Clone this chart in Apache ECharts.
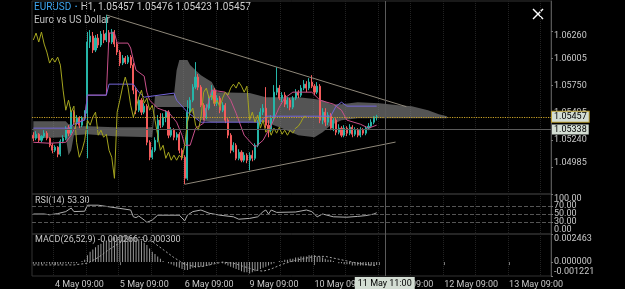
<!DOCTYPE html>
<html>
<head>
<meta charset="utf-8">
<title>EURUSD H1</title>
<script src="https://cdn.jsdelivr.net/npm/echarts@6.0.0/dist/echarts.min.js"></script>
<style>
  html, body { margin: 0; padding: 0; background: #000; }
  #chart { width: 625px; height: 289px; }
</style>
</head>
<body>
<div id="chart"></div>
<script>
// time axis: hourly bars, weekend skipped
const days = ['4 May', '5 May', '6 May', '9 May', '10 May', '11 May', '12 May', '13 May', '14 May'];
const hours = [...Array(24).keys()].map(h => String(h).padStart(2, '0') + ':00');
const categories = days.flatMap(d => hours.map(h => d + ' ' + h)).slice(1, 193);

// candles: [open, close, low, high]
const candles = [
  [1.05285,1.05257,1.05229,1.05313],[1.05257,1.05294,1.05238,1.05323],[1.05294,1.05238,1.05219,1.05304],
  [1.05238,1.05276,1.05219,1.05285],[1.05276,1.05304,1.05257,1.05332],[1.05304,1.05257,1.05238,1.05323],
  [1.05257,1.05191,1.05173,1.05266],[1.05191,1.05144,1.05116,1.05210],[1.05144,1.05173,1.05126,1.05191],
  [1.05173,1.05107,1.05079,1.05182],[1.05107,1.05229,1.05088,1.05248],[1.05229,1.05257,1.05210,1.05285],
  [1.05257,1.05351,1.05238,1.05369],[1.05351,1.05304,1.05276,1.05379],[1.05304,1.05501,1.05285,1.05548],
  [1.05501,1.05407,1.05379,1.05519],[1.05407,1.05445,1.05388,1.05473],[1.05445,1.05379,1.05351,1.05463],
  [1.05379,1.05445,1.05360,1.05463],[1.05445,1.05491,1.05426,1.05519],[1.05491,1.06157,1.05069,1.06251],
  [1.06157,1.06213,1.06101,1.06269],[1.06213,1.06082,1.06054,1.06251],[1.06082,1.06194,1.06063,1.06222],
  [1.06194,1.06129,1.06101,1.06232],[1.06129,1.06232,1.06110,1.06260],[1.06232,1.06176,1.06147,1.06269],
  [1.06176,1.06241,1.06157,1.06410],[1.06241,1.06157,1.06129,1.06269],[1.06157,1.06251,1.06138,1.06279],
  [1.06251,1.06138,1.06110,1.06269],[1.06138,1.06063,1.06035,1.06157],[1.06063,1.05960,1.05932,1.06082],
  [1.05960,1.06007,1.05941,1.06035],[1.06007,1.05969,1.05951,1.06026],[1.05969,1.06016,1.05951,1.06035],
  [1.06016,1.05941,1.05913,1.06035],[1.05941,1.05707,1.05669,1.05960],[1.05707,1.05519,1.05482,1.05726],
  [1.05519,1.05613,1.05501,1.05641],[1.05613,1.05501,1.05473,1.05632],[1.05501,1.05557,1.05482,1.05585],
  [1.05557,1.05219,1.05191,1.05576],[1.05219,1.05079,1.05051,1.05238],[1.05079,1.05144,1.05060,1.05173],
  [1.05144,1.05238,1.05126,1.05266],[1.05238,1.05426,1.05219,1.05473],[1.05426,1.05379,1.05351,1.05491],
  [1.05379,1.05454,1.05360,1.05491],[1.05454,1.05501,1.05407,1.05519],[1.05501,1.05285,1.05257,1.05519],
  [1.05285,1.05332,1.05266,1.05360],[1.05332,1.05266,1.05238,1.05351],[1.05266,1.05294,1.05238,1.05313],
  [1.05294,1.05144,1.05116,1.05313],[1.05144,1.05079,1.05051,1.05163],[1.05079,1.04882,1.04826,1.05098],
  [1.04882,1.05501,1.04863,1.05613],[1.05501,1.05613,1.05473,1.05641],[1.05613,1.05735,1.05594,1.05763],
  [1.05735,1.05829,1.05716,1.05969],[1.05829,1.05735,1.05707,1.05857],[1.05735,1.05566,1.05548,1.05754],
  [1.05566,1.05454,1.05426,1.05585],[1.05454,1.05538,1.05435,1.05576],[1.05538,1.05641,1.05519,1.05660],
  [1.05641,1.05707,1.05613,1.05754],[1.05707,1.05585,1.05557,1.05726],[1.05585,1.05632,1.05557,1.05660],
  [1.05632,1.05519,1.05491,1.05651],[1.05519,1.05566,1.05501,1.05594],[1.05566,1.05426,1.05398,1.05585],
  [1.05426,1.05285,1.05257,1.05445],[1.05285,1.05144,1.05116,1.05304],[1.05144,1.05191,1.05126,1.05219],
  [1.05191,1.05069,1.05051,1.05210],[1.05069,1.05126,1.05051,1.05154],[1.05126,1.05051,1.05032,1.05144],
  [1.05051,1.05098,1.05032,1.05126],[1.05098,1.05051,1.05023,1.05116],[1.05051,1.05098,1.04957,1.05126],
  [1.05098,1.05069,1.05041,1.05144],[1.05069,1.05191,1.05051,1.05210],[1.05191,1.05407,1.05173,1.05426],
  [1.05407,1.05501,1.05388,1.05538],[1.05501,1.05538,1.05473,1.05576],[1.05538,1.05379,1.05351,1.05735],
  [1.05379,1.05332,1.05266,1.05426],[1.05332,1.05445,1.05313,1.05473],[1.05445,1.05688,1.05426,1.05754],
  [1.05688,1.05726,1.05660,1.05922],[1.05726,1.05632,1.05613,1.05754],[1.05632,1.05660,1.05594,1.05688],
  [1.05660,1.05576,1.05548,1.05688],[1.05576,1.05613,1.05538,1.05641],[1.05613,1.05548,1.05519,1.05632],
  [1.05548,1.05632,1.05529,1.05651],[1.05632,1.05688,1.05613,1.05716],[1.05688,1.05660,1.05632,1.05707],
  [1.05660,1.05726,1.05641,1.05754],[1.05726,1.05763,1.05707,1.05801],[1.05763,1.05726,1.05688,1.05791],
  [1.05726,1.05782,1.05707,1.05819],[1.05782,1.05744,1.05726,1.05847],[1.05744,1.05688,1.05660,1.05763],
  [1.05688,1.05744,1.05669,1.05782],[1.05744,1.05426,1.05398,1.05763],[1.05426,1.05501,1.05388,1.05538],
  [1.05501,1.05407,1.05369,1.05538],[1.05407,1.05473,1.05379,1.05501],[1.05473,1.05351,1.05332,1.05491],
  [1.05351,1.05426,1.05323,1.05445],[1.05426,1.05313,1.05285,1.05445],[1.05313,1.05351,1.05294,1.05388],
  [1.05351,1.05285,1.05266,1.05369],[1.05285,1.05351,1.05266,1.05379],[1.05351,1.05304,1.05276,1.05369],
  [1.05304,1.05360,1.05285,1.05388],[1.05360,1.05294,1.05266,1.05379],[1.05294,1.05332,1.05276,1.05360],
  [1.05332,1.05285,1.05266,1.05351],[1.05285,1.05332,1.05266,1.05360],[1.05332,1.05304,1.05285,1.05351],
  [1.05304,1.05351,1.05285,1.05369],[1.05351,1.05369,1.05332,1.05398],[1.05369,1.05407,1.05351,1.05435],
  [1.05407,1.05457,1.05388,1.05463],[1.05457,1.05457,1.05423,1.05476]
];

// ichimoku lines, read as [bar index, price]
const tenkan = [
  [0,1.05219],[6,1.05210],[12,1.05219],[14,1.05285],[16,1.05388],[19,1.05445],[20,1.05660],[27,1.05660],
  [28,1.06241],[30,1.06241],[31,1.06147],[35,1.06147],[36,1.06101],[37,1.05988],[38,1.05894],[41,1.05838],
  [42,1.05688],[43,1.05613],[46,1.05538],[50,1.05501],[53,1.05407],[55,1.05285],[56,1.05191],[58,1.05191],
  [60,1.05351],[63,1.05398],[64,1.05519],[66,1.05707],[71,1.05688],[73,1.05613],[75,1.05491],[78,1.05285],
  [82,1.05173],[85,1.05238],[88,1.05379],[91,1.05548],[93,1.05632],[96,1.05688],[103,1.05688],[106,1.05613],
  [111,1.05576],[114,1.05519],[116,1.05426],[121,1.05388],[124,1.05351],[127,1.05379]
];
const kijun = [
  [0,1.05351],[13,1.05351],[15,1.05388],[19,1.05426],[20,1.05660],[27,1.05660],[28,1.05763],[37,1.05763],
  [39,1.05688],[41,1.05641],[52,1.05679],[53,1.05613],[57,1.05501],[60,1.05445],[62,1.05407],[84,1.05407],
  [86,1.05463],[110,1.05463],[112,1.05557],[114,1.05594],[116,1.05557],[127,1.05557]
];
// lagging span, starts at the first bar
const chikou = [
  1.06176,1.06241,1.06157,1.06251,1.06138,1.06063,1.05960,1.06007,1.05969,1.06016,1.05941,1.05707,
  1.05519,1.05613,1.05501,1.05557,1.05219,1.05079,1.05144,1.05238,1.05426,1.05379,1.05454,1.05501,
  1.05285,1.05332,1.05266,1.05294,1.05144,1.05079,1.04882,1.05501,1.05613,1.05735,1.05829,1.05735,
  1.05566,1.05454,1.05538,1.05641,1.05707,1.05585,1.05632,1.05519,1.05566,1.05426,1.05285,1.05144,
  1.05191,1.05069,1.05126,1.05051,1.05098,1.05051,1.05098,1.05069,1.05191,1.05407,1.05501,1.05538,
  1.05379,1.05332,1.05445,1.05688,1.05726,1.05632,1.05660,1.05576,1.05613,1.05548,1.05632,1.05688,
  1.05660,1.05726,1.05763,1.05726,1.05782,1.05744,1.05688,1.05744,1.05426,1.05501,1.05407,1.05473,
  1.05351,1.05426,1.05313,1.05351,1.05285,1.05351,1.05304,1.05360,1.05294,1.05332,1.05285,1.05332,
  1.05304,1.05351,1.05369,1.05407,1.05457,1.05457
];
// cloud outline
const cloudIdx = [0,12,13,14,15,20,30,44,45,52,53,54,57,58,60,62,66,68,80,86,92,98,104,107,110,114,120,128,135,140,146,150,153];
const cloudTop = [1.05416,1.05416,1.05388,1.05388,1.05369,1.05369,1.05360,1.05360,1.05651,1.05660,1.05894,1.05988,1.05988,1.05941,1.05894,1.05847,1.05782,1.05688,1.05679,1.05641,1.05641,1.05641,1.05623,1.05613,1.05576,1.05576,1.05594,1.05585,1.05566,1.05557,1.05519,1.05482,1.05463];
const cloudBottom = [1.05257,1.05266,1.05098,1.05144,1.05285,1.05294,1.05276,1.05266,1.05548,1.05548,1.05548,1.05548,1.05548,1.05519,1.05445,1.05426,1.05407,1.05407,1.05407,1.05407,1.05351,1.05285,1.05266,1.05313,1.05379,1.05426,1.05445,1.05445,1.05445,1.05445,1.05445,1.05445,1.05445];

// triangle trend lines
const upperTrend = [[27, 1.06410], [138, 1.05552]];
const lowerTrend = [[56, 1.04826], [134, 1.05221]];

// RSI(14)
const rsi = [
  [0,50],[4,50],[6,48],[9,51],[12,56],[14,65],[15,56],[19,57],[20,72],[24,72],[28,68],[32,64],[36,60],
  [37,43],[38,41],[39,45],[41,35],[42,29],[44,35],[46,47],[54,47],[56,33],[57,47],[59,56],[62,60],[65,52],
  [69,47],[74,43],[76,37],[80,39],[83,43],[85,56],[86,60],[87,50],[88,60],[90,54],[97,55],[101,60],[103,56],
  [105,43],[107,50],[111,43],[116,42],[120,44],[123,46],[126,50],[127,53.3]
];
const rsiLevels = [70, 50, 30];

// MACD(26,52,9)
const macd = [
  -0.00015,-0.0002,-0.00015,-0.0002,-0.00015,-0.0001,-0.00015,-0.0002,-0.0002,-0.00015,-0.0002,-0.00015,
  -0.0001,-0.00015,-0.0001,-0.0001,-0.0001,0,0.0001,0.0002,0.0006,0.0009,0.0011,0.0013,0.0015,0.0016,
  0.0018,0.0019,0.002,0.0021,0.0022,0.0022,0.0023,0.0023,0.0023,0.0023,0.0022,0.0022,0.0021,0.002,
  0.0019,0.0017,0.0015,0.0012,0.0009,0.0007,0.0005,0.0003,0.0001,0,-0.0001,-0.0002,-0.0003,-0.0004,
  -0.0005,-0.0006,-0.0007,-0.0007,-0.0006,-0.0005,-0.0005,-0.0004,-0.0004,-0.0004,-0.0003,-0.0003,
  -0.0002,-0.0001,-0.0001,0,-0.0001,-0.0002,-0.0003,-0.0004,-0.0005,-0.0006,-0.0007,-0.0008,-0.0009,
  -0.0009,-0.001,-0.0009,-0.0008,-0.0007,-0.0006,-0.0005,-0.0004,-0.0003,-0.0002,-0.0001,0,0.0001,
  0.0001,0.0002,0.0002,0.0003,0.0003,0.0004,0.0004,0.0005,0.0005,0.0005,0.0006,0.0006,0.0006,0.0005,
  0.0005,0.0004,0.0003,0.0002,0.0002,0.0001,0,-0.0001,-0.0001,-0.0002,-0.0002,-0.0002,-0.0003,-0.0003,
  -0.0003,-0.0003,-0.0003,-0.0003,-0.0003,-0.0003,-0.00028,-0.000266
];
const signal = [
  [0,-0.00025],[15,-0.00025],[20,-0.0001],[24,0.0004],[28,0.0011],[32,0.0017],[36,0.0021],[40,0.0022],
  [44,0.0018],[48,0.0011],[52,0.0004],[56,-0.0002],[60,-0.0004],[62,-0.0004],[66,-0.0002],[70,0],
  [74,-0.0001],[78,-0.0004],[82,-0.0007],[85,-0.0008],[88,-0.0006],[92,-0.0002],[96,0.0001],[100,0.0003],
  [104,0.0005],[108,0.0005],[112,0.0003],[116,0.0001],[120,-0.0001],[124,-0.00025],[127,-0.0003]
];

const priceTicks = [1.04985, 1.0524, 1.05495, 1.0575, 1.06005, 1.0626];
const rsiTicksOuter = [0, 50, 100];
const rsiTicksInner = [30, 70];
const macdTicks = [-0.001221, 0, 0.002463];
const lastPrice = 1.05457;
const crossPrice = 1.05338;
const crossTime = '11 May 11:00';

const textColor = '#c8c8c8';
const font = 'Roboto, sans-serif';
const bull = '#26b5a8';
const bear = '#f35b5b';

const chart = echarts.init(document.getElementById('chart'));

const isLabel = (i, v) => v.endsWith('09:00');
const isGrid = (i, v) => v.endsWith('09:00') || v.endsWith('21:00');

// 三个面板共用的 x 轴
const makeX = (gridIndex) => ({
  type: 'category',
  gridIndex,
  data: categories,
  boundaryGap: true,
  axisLine: { show: false },
  axisTick: {
    show: gridIndex === 2, interval: isLabel, alignWithLabel: true, length: 3,
    lineStyle: { color: '#777' },
  },
  axisLabel: {
    show: gridIndex === 2, interval: isLabel, align: 'left', margin: 4,
    color: textColor, fontSize: 9, fontFamily: font,
  },
  splitLine: { show: true, interval: isGrid, lineStyle: { color: '#222', type: 'dotted' } },
});

// edge: 首尾标签贴着面板边缘
const makeY = (gridIndex, min, max, ticks, digits, edge = true) => ({
  type: 'value',
  gridIndex,
  position: 'right',
  min,
  max,
  axisLine: { show: edge, lineStyle: { color: '#555' } },
  axisTick: { show: true, customValues: ticks, length: 2, lineStyle: { color: '#777' } },
  axisLabel: {
    customValues: ticks, margin: 3, color: textColor, fontSize: 9, fontFamily: font,
    formatter: (v) => v.toFixed(digits),
    showMinLabel: true,
    showMaxLabel: true,
    ...(edge ? { verticalAlignMaxLabel: 'top', verticalAlignMinLabel: 'bottom' } : {}),
  },
  splitLine: { show: false },
});

const boxLabel = (text, border) => ({
  show: true,
  position: 'end',
  distance: 1,
  formatter: text,
  color: '#000',
  backgroundColor: '#d3ddd3',
  borderColor: border || 'transparent',
  borderWidth: border ? 1 : 0,
  padding: [1, 2, 0, 2],
  fontSize: 9,
  fontFamily: font,
});

const crossLine = (withLabel) => ({
  xAxis: crossTime,
  lineStyle: { color: '#5a5a5a', type: 'solid', width: 1 },
  label: withLabel
    ? { ...boxLabel(crossTime), position: 'start', distance: 1, padding: [2, 3, 1, 3] }
    : { show: false },
});

const thinLine = (name, data, color, extra) => ({
  name, type: 'line', xAxisIndex: 0, yAxisIndex: 0, data,
  showSymbol: false, silent: true, z: 4,
  lineStyle: { color, width: 1, ...(extra || {}) },
});

const gridBase = { left: 32, right: 74, show: true, borderColor: '#333', borderWidth: 1, containLabel: false, outerBoundsMode: 'none' };

const option = {
  backgroundColor: '#000',
  animation: false,
  grid: [
    { ...gridBase, top: 1, height: 193 },
    { ...gridBase, top: 194, height: 40 },
    { ...gridBase, top: 234, height: 42 },
  ],
  xAxis: [makeX(0), makeX(1), makeX(2)],
  yAxis: [
    makeY(0, 1.04735, 1.06541, priceTicks, 5),
    makeY(1, 0, 100, rsiTicksOuter, 2),
    makeY(2, -0.001221, 0.002463, macdTicks, 6),
    makeY(1, 0, 100, rsiTicksInner, 2, false),
  ],
  graphic: [
    {
      type: 'text', left: 34, top: 1, silent: true,
      style: {
        text: '{a|EURUSD} {b|•} {c|H1, 1.05457 1.05476 1.05423 1.05457}',
        rich: {
          a: { fill: '#3ea6f0', fontSize: 10, fontFamily: font, lineHeight: 12 },
          b: { fill: '#3ea6f0', fontSize: 8, fontFamily: font, lineHeight: 12 },
          c: { fill: '#d0d0d0', fontSize: 10, fontFamily: font, lineHeight: 12 },
        },
      },
    },
    {
      type: 'text', left: 34, top: 14, silent: true,
      style: { text: 'Euro vs US Dollar', fill: '#c0c0c0', fontSize: 10, fontFamily: font, lineHeight: 12 },
    },
    {
      type: 'text', left: 35, top: 196, silent: true,
      style: { text: 'RSI(14) 53.30', fill: textColor, fontSize: 9, fontFamily: font },
    },
    {
      type: 'text', left: 35, top: 235, silent: true,
      style: { text: 'MACD(26,52,9) -0.000266 -0.000300', fill: textColor, fontSize: 9, fontFamily: font },
    },
    // close icon
    { type: 'line', silent: true, shape: { x1: 533, y1: 9, x2: 543, y2: 19 }, style: { stroke: '#fff', lineWidth: 1.4 } },
    { type: 'line', silent: true, shape: { x1: 543, y1: 9, x2: 533, y2: 19 }, style: { stroke: '#fff', lineWidth: 1.4 } },
  ],
  series: [
    {
      name: 'cloud', type: 'custom', xAxisIndex: 0, yAxisIndex: 0, silent: true, z: 1,
      data: [0],
      renderItem: (params, api) => {
        const pts = cloudIdx.map((x, k) => api.coord([x, cloudTop[k]]));
        for (let k = cloudIdx.length - 1; k >= 0; k--) {
          pts.push(api.coord([cloudIdx[k], cloudBottom[k]]));
        }
        return { type: 'polygon', shape: { points: pts }, style: { fill: 'rgba(140,140,140,0.6)' } };
      },
    },
    {
      name: 'EURUSD', type: 'candlestick', xAxisIndex: 0, yAxisIndex: 0, data: candles,
      barWidth: 1.6, z: 3, silent: true,
      itemStyle: { color: bull, color0: bear, borderColor: bull, borderColor0: bear, borderWidth: 1 },
    },
    thinLine('Tenkan', tenkan, '#c9508a'),
    {
      ...thinLine('Kijun', kijun, '#7466d8'),
      markLine: {
        symbol: 'none', silent: true, animation: false, precision: 5, z: 6,
        data: [
          { yAxis: lastPrice, lineStyle: { color: '#c9a227', type: 'dotted', width: 1.2 }, label: boxLabel(lastPrice.toFixed(5), '#b59a30') },
          { yAxis: crossPrice, lineStyle: { color: '#5a5a5a', type: 'solid', width: 1 }, label: boxLabel(crossPrice.toFixed(5)) },
          crossLine(false),
        ],
      },
    },
    thinLine('Chikou', chikou, '#a5a51e'),
    thinLine('Upper', upperTrend, '#8f887a'),
    thinLine('Lower', lowerTrend, '#8f887a'),
    {
      name: 'RSI', type: 'line', xAxisIndex: 1, yAxisIndex: 1, data: rsi,
      showSymbol: false, silent: true, lineStyle: { color: '#b0b0b0', width: 1 },
      markLine: {
        symbol: 'none', silent: true, animation: false, precision: 2,
        data: [
          ...rsiLevels.map(v => ({ yAxis: v, lineStyle: { color: '#555', type: 'dashed', width: 1 }, label: { show: false } })),
          crossLine(false),
        ],
      },
    },
    {
      name: 'MACD', type: 'bar', xAxisIndex: 2, yAxisIndex: 2, data: macd,
      barWidth: 1, silent: true, itemStyle: { color: '#9a9a9a' },
      markLine: { symbol: 'none', silent: true, animation: false, data: [crossLine(true)] },
    },
    {
      name: 'Signal', type: 'line', xAxisIndex: 2, yAxisIndex: 2, data: signal,
      showSymbol: false, silent: true, lineStyle: { color: '#a0a0a0', width: 1, type: [2, 2] },
    },
  ],
};

chart.setOption(option);
</script>
</body>
</html>
